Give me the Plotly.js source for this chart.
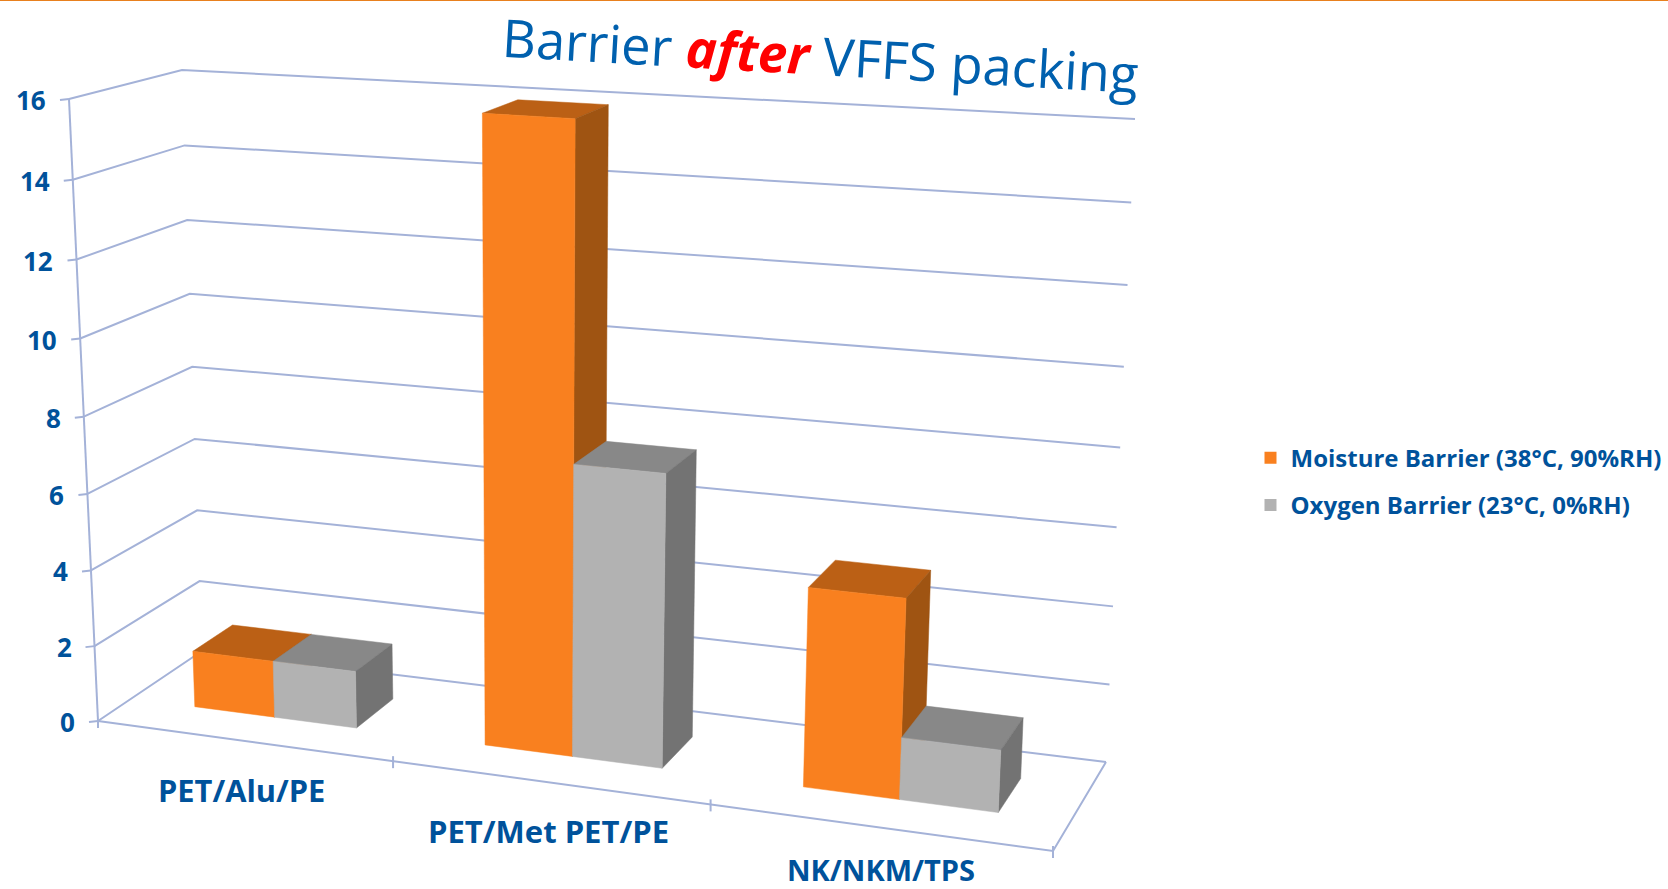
<!DOCTYPE html>
<html><head><meta charset="utf-8">
<script src="https://cdn.plot.ly/plotly-3.0.1.min.js"></script>
<style>html,body{margin:0;padding:0;background:#fff}#chart{width:1668px;height:889px}</style>
</head><body><div id="chart"></div>
<script>
// ---- data ----
const categories = ['PET/Alu/PE', 'PET/Met PET/PE', 'NK/NKM/TPS'];
const moistureBarrier = [1.5, 15.9, 5.0];
const oxygenBarrier = [1.5, 7.45, 1.55];
const yTicks = [0, 2, 4, 6, 8, 10, 12, 14, 16];
const seriesNames = ['Moisture Barrier (38°C, 90%RH)', 'Oxygen Barrier (23°C, 0%RH)'];

// ---- styles ----
const TXT = '#00529B', GRID = '#A4B2D8', FONT = '"Open Sans", "Noto Sans", sans-serif';
const ORANGE = {front:'#F9801F', top:'#BB6015', side:'#9F5412'};
const GREY = {front:'#B2B2B2', top:'#888888', side:'#737373'};

// ---- oblique view of the chart box: corners in picture space ----
const FLOOR = {fl:[98,721], fr:[1053,851], bl:[202,651], br:[1106,762]};
const RISE  = {fl:[-29,-622], fr:[32,-688], bl:[-20,-581], br:[29,-643]};
const YMAX = 16, GAP = 0.46, BW = 0.284, WF = 0.31, WB = 0.7, PERSP = -0.042;

function homography(q){
  const x0=q.fl[0],y0=q.fl[1],x1=q.fr[0],y1=q.fr[1],x2=q.br[0],y2=q.br[1],x3=q.bl[0],y3=q.bl[1];
  const dx1=x1-x2,dx2=x3-x2,sx=x0-x1+x2-x3,dy1=y1-y2,dy2=y3-y2,sy=y0-y1+y2-y3;
  const d=dx1*dy2-dx2*dy1, g=(sx*dy2-dx2*sy)/d, h=(dx1*sy-sx*dy1)/d;
  const a=x1-x0+g*x1,b=x3-x0+h*x3,e=y1-y0+g*y1,f=y3-y0+h*y3;
  return (u,w)=>{const k=g*u+h*w+1; return [(a*u+b*w+x0)/k,(e*u+f*w+y0)/k];};
}
const floorH=homography(FLOOR);
function proj(u,w,v){
  const z=v/YMAX, t=z*(1+PERSP)/(1+PERSP*z), F=floorH(u,w), out=[];
  for(let i=0;i<2;i++){
    const r=(RISE.fl[i]*(1-u)+RISE.fr[i]*u)*(1-w)+(RISE.bl[i]*(1-u)+RISE.br[i]*u)*w;
    out.push(F[i]+r*t);
  }
  return out;
}

const traces=[];
function line(pts,color,width){
  traces.push({type:'scatter',mode:'lines',x:pts.map(p=>p[0]),y:pts.map(p=>p[1]),line:{color:color,width:width},showlegend:false,hoverinfo:'skip'});
}
function face(pts,color){
  const c=pts.concat([pts[0]]);
  traces.push({type:'scatter',mode:'lines',x:c.map(p=>p[0]),y:c.map(p=>p[1]),fill:'toself',fillcolor:color,line:{color:color,width:0.5},showlegend:false,hoverinfo:'skip'});
}
// walls and floor
yTicks.forEach(v=>{
  line([proj(0,0,v),proj(0,1,v),proj(1,1,v)],GRID,2);
  const p=proj(0,0,v); line([[p[0]-9,p[1]+1],p],GRID,2);
});
line([proj(0,0,0),proj(0,0,YMAX)],GRID,2);
line([proj(0,0,0),proj(1,0,0),proj(1,1,0)],GRID,2);
categories.forEach((c,i)=>{
  const p=proj((i+1)/categories.length+(i<2?0.007:0),0,0); line([[p[0],p[1]-5],[p[0],p[1]+7]],GRID,2);
});
{const p=proj(0,0,0); line([p,[p[0],p[1]+7]],GRID,2);}
// bars
function bar(i,j,v,col){
  const n=categories.length, u0=(i+GAP/2+j*BW)/n, u1=u0+BW/n;
  face([proj(u0,WF,v),proj(u1,WF,v),proj(u1,WB,v),proj(u0,WB,v)],col.top);
  face([proj(u1,WF,0),proj(u1,WB,0),proj(u1,WB,v),proj(u1,WF,v)],col.side);
  face([proj(u0,WF,0),proj(u1,WF,0),proj(u1,WF,v),proj(u0,WF,v)],col.front);
}
categories.forEach((c,i)=>{ bar(i,0,moistureBarrier[i],ORANGE); bar(i,1,oxygenBarrier[i],GREY); });
// legend entries
[ORANGE,GREY].forEach((col,j)=>{
  traces.push({type:'scatter',mode:'markers',x:[null],y:[null],name:seriesNames[j],legendgroup:'g'+j,
    marker:{symbol:'square',size:13,color:col.front},hoverinfo:'skip'});
});
// labels
const annotations=[];
yTicks.forEach(v=>{
  const p=proj(0,0,v);
  annotations.push({x:p[0]-21,y:p[1]+1,xref:'x',yref:'y',xanchor:'right',yanchor:'middle',showarrow:false,text:'<b>'+v+'</b>',font:{family:FONT,size:26,color:TXT}});
});
const catPos=[0.170,0.508,0.840], catDrop=[49,49,42], catSize=[30.8,31,29];
categories.forEach((c,i)=>{
  const p=proj(catPos[i],0,0);
  annotations.push({x:p[0],y:p[1]+catDrop[i],xref:'x',yref:'y',xanchor:'center',yanchor:'middle',showarrow:false,text:'<b>'+c+'</b>',font:{family:FONT,size:catSize[i],color:TXT}});
});
annotations.push({x:820,y:54,xref:'x',yref:'y',xanchor:'center',yanchor:'middle',showarrow:false,textangle:3.3,
  text:'Barrier <span style="color:#FF0000"><b><i>after</i></b></span> VFFS packing',font:{family:FONT,size:52.5,color:'#0060AE'}});

const layout={
  width:1668,height:889,margin:{l:0,r:0,t:0,b:0},paper_bgcolor:'#fff',plot_bgcolor:'#fff',showlegend:true,
  xaxis:{range:[0,1668],visible:false,fixedrange:true},
  yaxis:{range:[889,0],visible:false,fixedrange:true},
  legend:{x:0.7497,y:0.510,xanchor:'left',yanchor:'top',traceorder:'grouped',tracegroupgap:13,bgcolor:'rgba(0,0,0,0)',font:{family:FONT,size:24,color:TXT,weight:700},itemsizing:'constant',itemwidth:30},
  annotations:annotations,
  shapes:[{type:'line',xref:'paper',yref:'paper',x0:0,x1:1,y0:1,y1:1,line:{color:'#E8801E',width:2}}]
};
Plotly.newPlot('chart',traces,layout,{displayModeBar:false,staticPlot:true});
</script></body></html>
